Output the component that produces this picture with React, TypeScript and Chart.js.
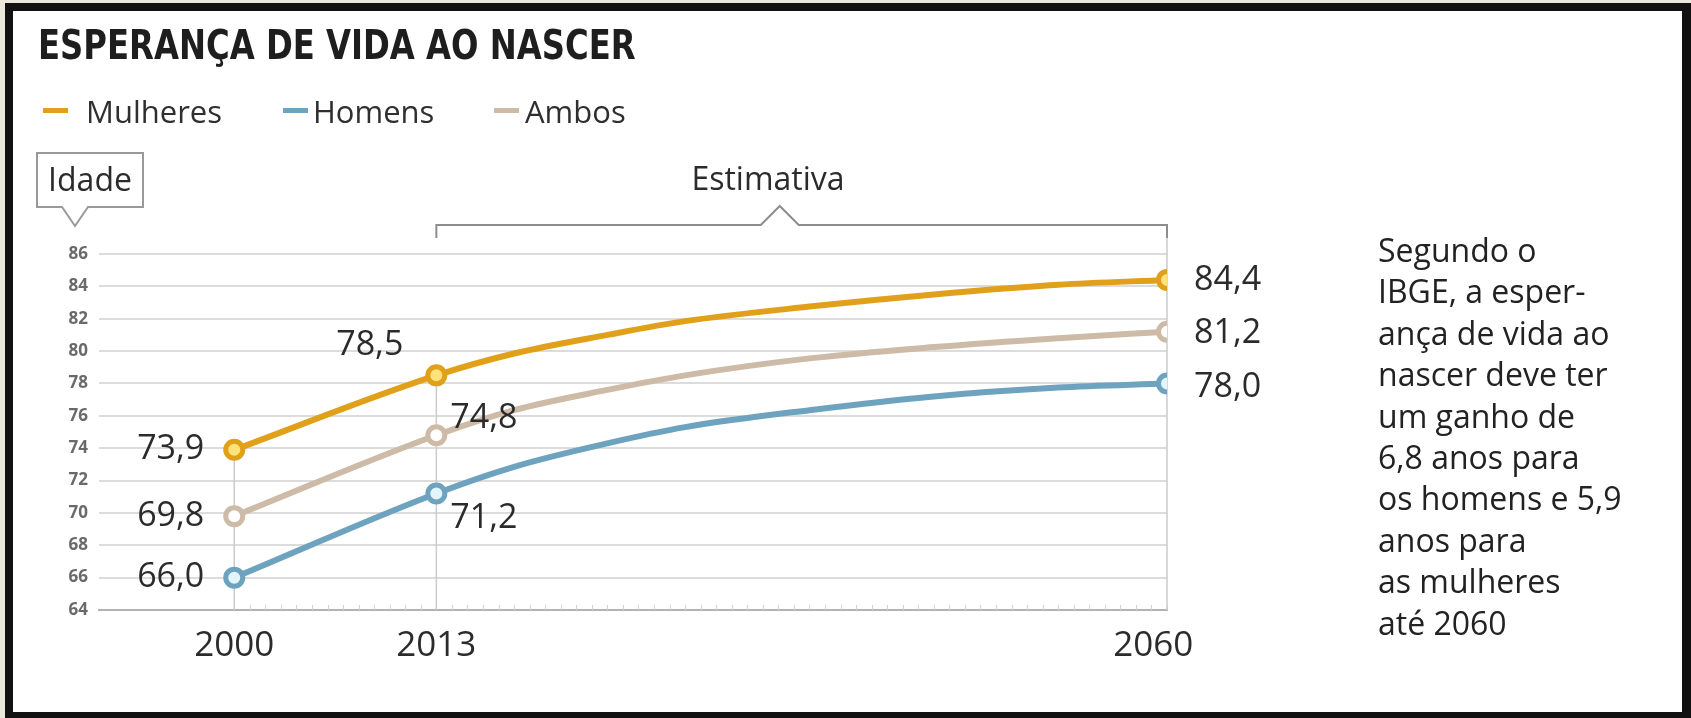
import React, { useEffect, useRef } from "react";
import { Chart, registerables } from "chart.js";

Chart.register(...registerables);

// ---- data ----
const years = [2000, 2013, 2018, 2024, 2029, 2037, 2045, 2053, 2060];
const mulheres = [73.9, 78.5, 79.85, 81.0, 81.85, 82.75, 83.5, 84.1, 84.4];
const ambos = [69.8, 74.8, 76.35, 77.6, 78.5, 79.55, 80.25, 80.8, 81.2];
const homens = [66.0, 71.2, 72.85, 74.3, 75.3, 76.35, 77.2, 77.75, 78.0];
const labeledYears = [2000, 2013, 2060];
const xTickYears = [2000, 2013, 2060];
const estimateStart = 2013;
const estimateEnd = 2060;
const yMin = 64;
const yMax = 86;
const yStep = 2;

const colors = { Mulheres: "#e1a01a", Homens: "#6da3bf", Ambos: "#cdbba7" };
const pointFills = { Mulheres: "#ffe27a", Homens: "#e2f5fb", Ambos: "#ffffff" };

const sideText = [
  "Segundo o",
  "IBGE, a esper-",
  "ança de vida ao",
  "nascer deve ter",
  "um ganho de",
  "6,8 anos para",
  "os homens e 5,9",
  "anos para",
  "as mulheres",
  "até 2060",
];

// label placement (style only): [dx, dy, align] per series per labeled year
const labelPlacement: Record<string, Record<number, [number, number, CanvasTextAlign]>> = {
  Mulheres: { 2000: [-30, 0, "right"], 2013: [-33, -30, "right"], 2060: [27, 0, "left"] },
  Ambos: { 2000: [-30, 0, "right"], 2013: [14, -17, "left"], 2060: [27, 2, "left"] },
  Homens: { 2000: [-30, 0, "right"], 2013: [14, 25, "left"], 2060: [27, 4, "left"] },
};

const fmt = (v: number) => v.toFixed(1).replace(".", ",");

const overlayPlugin = {
  id: "overlay",
  beforeDatasetsDraw(chart: any) {
    const { ctx, chartArea, scales } = chart;
    const x = scales.x;
    const y = scales.y;
    const bottom = chartArea.bottom;
    ctx.save();
    // minor ticks along the base line
    ctx.strokeStyle = "#d2d2d2";
    ctx.lineWidth = 1;
    for (let yr = years[0]; yr <= years[years.length - 1]; yr++) {
      const px = Math.round(x.getPixelForValue(yr)) + 0.5;
      ctx.beginPath();
      ctx.moveTo(px, bottom - 5);
      ctx.lineTo(px, bottom);
      ctx.stroke();
    }
    // vertical guide lines
    ctx.strokeStyle = "#cbcbcb";
    ctx.lineWidth = 1.5;
    [2000, 2013].forEach((yr) => {
      const i = years.indexOf(yr);
      const top = y.getPixelForValue(mulheres[i]);
      const px = x.getPixelForValue(yr);
      ctx.beginPath();
      ctx.moveTo(px, top);
      ctx.lineTo(px, bottom);
      ctx.stroke();
    });
    // bracket "Estimativa"
    const bx1 = x.getPixelForValue(estimateStart);
    const bx2 = x.getPixelForValue(estimateEnd);
    const by = 225;
    const cx = bx1 + (bx2 - bx1) * 0.47;
    ctx.strokeStyle = "#8d8d8d";
    ctx.lineWidth = 2;
    ctx.beginPath();
    ctx.moveTo(bx1, by + 13);
    ctx.lineTo(bx1, by);
    ctx.lineTo(cx - 19, by);
    ctx.lineTo(cx, by - 19);
    ctx.lineTo(cx + 19, by);
    ctx.lineTo(bx2, by);
    ctx.lineTo(bx2, by + 13);
    ctx.stroke();
    ctx.strokeStyle = "#cbcbcb";
    ctx.lineWidth = 1.5;
    ctx.beginPath();
    ctx.moveTo(bx2, by + 13);
    ctx.lineTo(bx2, bottom);
    ctx.stroke();
    ctx.restore();
  },
  afterDatasetsDraw(chart: any) {
    const { ctx } = chart;
    ctx.save();
    ctx.font = '500 34px "Open Sans"';
    ctx.fillStyle = "#2b2b2b";
    ctx.textBaseline = "middle";
    chart.data.datasets.forEach((ds: any, di: number) => {
      const meta = chart.getDatasetMeta(di);
      const name = ds.label as string;
      labeledYears.forEach((yr) => {
        const i = years.indexOf(yr);
        const el = meta.data[i];
        const [dx, dy, align] = labelPlacement[name][yr];
        ctx.textAlign = align;
        ctx.fillText(fmt(ds.data[i].y), el.x + dx, el.y + dy);
      });
    });
    ctx.restore();
  },
};

function makeDataset(name: string, values: number[]) {
  const c = (colors as any)[name];
  return {
    label: name,
    data: years.map((yr, i) => ({ x: yr, y: values[i] })),
    borderColor: c,
    borderWidth: 6,
    cubicInterpolationMode: "monotone" as const,
    pointRadius: (ctx: any) => (labeledYears.includes(years[ctx.dataIndex]) ? 8.5 : 0),
    pointHoverRadius: 0,
    pointBorderWidth: 5,
    pointBorderColor: c,
    pointBackgroundColor: (pointFills as any)[name],
  };
}

export default function App() {
  const ref = useRef<HTMLCanvasElement | null>(null);
  const titleRef = useRef<HTMLDivElement | null>(null);

  useEffect(() => {
    document.body.style.margin = "0";
    const t = titleRef.current;
    if (t) {
      const w = t.scrollWidth;
      if (w > 0) t.style.transform = `scaleX(${598 / w})`;
    }
    Chart.defaults.font.family = '"Open Sans", sans-serif';
    const chart = new Chart(ref.current as HTMLCanvasElement, {
      type: "line",
      data: {
        datasets: [
          makeDataset("Mulheres", mulheres),
          makeDataset("Ambos", ambos),
          makeDataset("Homens", homens),
        ],
      },
      options: {
        responsive: false,
        animation: false,
        devicePixelRatio: 1,
        layout: { padding: { left: 0, top: 254, right: 524, bottom: 48 } },
        plugins: { legend: { display: false }, tooltip: { enabled: false } },
        scales: {
          x: {
            type: "linear",
            min: 1991.3,
            max: 2060,
            afterFit: (s: any) => {
              s.height = 60;
            },
            afterBuildTicks: (s: any) => {
              s.ticks = xTickYears.map((v) => ({ value: v }));
            },
            grid: { display: true, drawOnChartArea: false, drawTicks: false },
            border: { display: true, color: "#b3b3b3", width: 2 },
            ticks: {
              autoSkip: false,
              maxRotation: 0,
              padding: 15,
              color: "#2b2b2b",
              font: { size: 35 },
              // the last label sits slightly left of its tick in the original
              callback: (v: any) => (v === xTickYears[xTickYears.length - 1] ? String(v) + "   " : String(v)),
            },
          },
          y: {
            type: "linear",
            min: yMin,
            max: yMax,
            afterFit: (s: any) => {
              s.width = 99;
            },
            grid: {
              drawTicks: false,
              lineWidth: 2,
              color: (ctx: any) => (ctx.tick && ctx.tick.value === yMin ? "#b3b3b3" : "#dcdcdc"),
            },
            border: { display: false },
            ticks: {
              stepSize: yStep,
              padding: 11,
              color: "#6a6a6a",
              font: { size: 17, weight: "bold" },
            },
          },
        },
      },
      plugins: [overlayPlugin],
    } as any);
    return () => chart.destroy();
  }, []);

  const legendItems = [
    { name: "Mulheres", dash: 43, text: 86 },
    { name: "Homens", dash: 283, text: 313 },
    { name: "Ambos", dash: 494, text: 525 },
  ];

  return (
    <div
      style={{
        position: "relative",
        width: 1691,
        height: 718,
        background: "#ebe7da",
        overflow: "hidden",
        fontFamily: '"Open Sans", sans-serif',
      }}
    >
      <div
        style={{
          position: "absolute",
          left: 5,
          top: 3,
          right: 0,
          bottom: 0,
          background: "#ffffff",
          borderLeft: "8px solid #111",
          borderTop: "8px solid #111",
          borderRight: "9px solid #111",
          borderBottom: "6px solid #111",
        }}
      />
      <canvas
        ref={ref}
        width={1691}
        height={718}
        style={{ position: "absolute", left: 0, top: 0, width: 1691, height: 718 }}
      />
      <div
        ref={titleRef}
        style={{
          position: "absolute",
          left: 38,
          top: 23,
          font: 'bold 41px "DejaVu Sans Condensed", "DejaVu Sans", sans-serif',
          fontStretch: "condensed",
          lineHeight: "44px",
          color: "#1e1e1e",
          whiteSpace: "nowrap",
          transformOrigin: "0 50%",
        }}
      >
        ESPERANÇA DE VIDA AO NASCER
      </div>
      {legendItems.map((it) => (
        <React.Fragment key={it.name}>
          <div
            style={{
              position: "absolute",
              left: it.dash,
              top: 108,
              width: 25,
              height: 5,
              background: (colors as any)[it.name],
            }}
          />
          <div
            style={{
              position: "absolute",
              left: it.text,
              top: 90,
              fontSize: 31,
              lineHeight: "42px",
              color: "#2f2f2f",
              whiteSpace: "nowrap",
            }}
          >
            {it.name}
          </div>
        </React.Fragment>
      ))}
      <svg
        width={200}
        height={240}
        style={{ position: "absolute", left: 0, top: 0, overflow: "visible" }}
      >
        <path
          d="M37,153 H143 V207 H88 L75,226 L62,207 H37 Z"
          fill="#ffffff"
          stroke="#9a9a9a"
          strokeWidth={2}
        />
      </svg>
      <div
        style={{
          position: "absolute",
          left: 37,
          top: 157,
          width: 106,
          textAlign: "center",
          fontSize: 32,
          lineHeight: "44px",
          color: "#2b2b2b",
        }}
      >
        Idade
      </div>
      <div
        style={{
          position: "absolute",
          left: 668,
          top: 156,
          width: 200,
          textAlign: "center",
          fontSize: 32,
          lineHeight: "44px",
          color: "#2b2b2b",
        }}
      >
        Estimativa
      </div>
      <div
        style={{
          position: "absolute",
          left: 1378,
          top: 229,
          fontSize: 32,
          lineHeight: "41.4px",
          color: "#222",
          whiteSpace: "pre",
        }}
      >
        {sideText.join("\n")}
      </div>
    </div>
  );
}
